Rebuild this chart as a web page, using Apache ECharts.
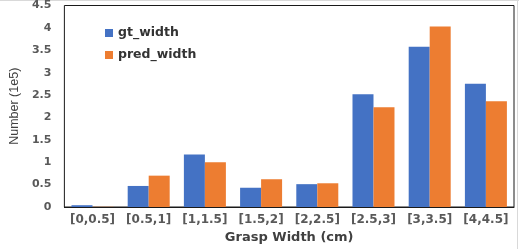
<!DOCTYPE html>
<html>
<head>
<meta charset="utf-8">
<script src="https://cdn.jsdelivr.net/npm/echarts@6/dist/echarts.min.js"></script>
<style>html,body{margin:0;padding:0;background:#fff;}#c{width:519px;height:249px;}</style>
</head>
<body>
<div id="c"></div>
<script>
const categories = ['[0,0.5]', '[0.5,1]', '[1,1.5]', '[1.5,2]', '[2,2.5]', '[2.5,3]', '[3,3.5]', '[4,4.5]'];
const gtWidth = [0.04, 0.47, 1.17, 0.43, 0.51, 2.52, 3.58, 2.75];
const predWidth = [0.005, 0.70, 1.00, 0.62, 0.53, 2.23, 4.03, 2.36];
const seriesNames = ['gt_width', 'pred_width'];
const xTitle = 'Grasp Width (cm)';
const yTitle = 'Number (1e5)';

const chart = echarts.init(document.getElementById('c'), null, {renderer: 'canvas'});
chart.setOption({
  animation: false,
  color: ['#4472C4', '#ED7D31'],
  graphic: [
    {type: 'line', shape: {x1: 0, y1: 0.5, x2: 519, y2: 0.5}, style: {stroke: '#d9d9d9', lineWidth: 1}},
    {type: 'line', shape: {x1: 517.5, y1: 0, x2: 517.5, y2: 249}, style: {stroke: '#d9d9d9', lineWidth: 1}}
  ],
  grid: {left: 57.5, right: 5, top: 5, bottom: 42, show: true, borderColor: '#1a1a1a', borderWidth: 1, containLabel: false},
  legend: {
    orient: 'vertical', left: 100, top: 21, itemWidth: 8, itemHeight: 8, itemGap: 8,
    icon: 'rect',
    textStyle: {fontFamily: 'DejaVu Sans', fontWeight: 'bold', fontSize: 12.5, color: '#333', lineHeight: 14},
    data: seriesNames
  },
  xAxis: {
    type: 'category', data: categories,
    axisLine: {lineStyle: {color: '#1a1a1a', width: 1}},
    axisTick: {show: false},
    axisLabel: {fontFamily: 'DejaVu Sans', fontWeight: 'bold', fontSize: 12, color: '#595959', margin: 7, interval: 0},
    name: xTitle, nameLocation: 'middle', nameGap: 24,
    nameTextStyle: {fontFamily: 'DejaVu Sans', fontWeight: 'bold', fontSize: 13, color: '#404040'}
  },
  yAxis: {
    type: 'value', min: 0, max: 4.5, interval: 0.5,
    axisLine: {show: false}, axisTick: {show: false}, splitLine: {show: false},
    axisLabel: {fontFamily: 'DejaVu Sans', fontWeight: 'bold', fontSize: 11, color: '#595959', margin: 13},
    name: yTitle, nameLocation: 'middle', nameGap: 40, nameRotate: 90,
    nameTextStyle: {fontFamily: 'Liberation Sans', fontSize: 12.5, color: '#404040'}
  },
  series: [
    {name: seriesNames[0], type: 'bar', data: gtWidth, barWidth: 21, barGap: '0%'},
    {name: seriesNames[1], type: 'bar', data: predWidth, barWidth: 21, barGap: '0%'}
  ]
});
</script>
</body>
</html>
